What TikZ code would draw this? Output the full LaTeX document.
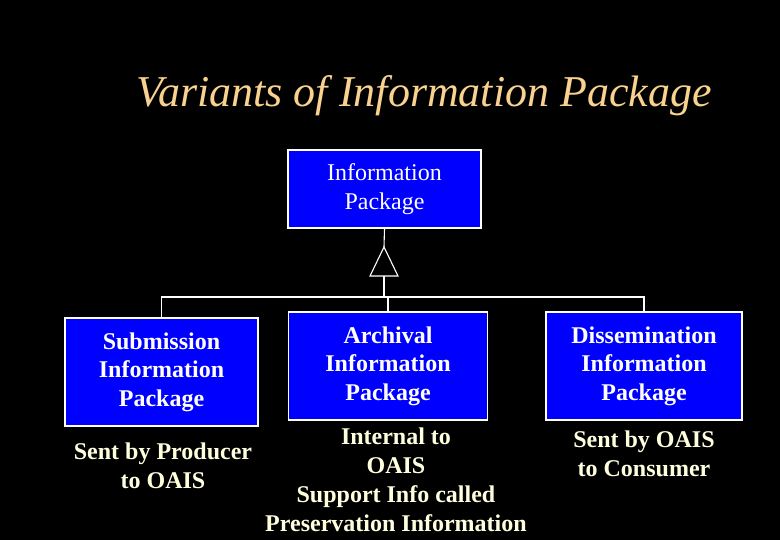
\documentclass[tikz,border=0pt]{standalone}
\usepackage{fontspec}
\setmainfont{Liberation Serif}
\usepackage{tikz}
\definecolor{titlecol}{RGB}{248,210,142}
\definecolor{notecol}{RGB}{255,255,222}
\definecolor{pkgblue}{RGB}{0,0,255}

\begin{document}
\begin{tikzpicture}[x=1pt,y=-1pt,
    pkg/.style={draw=white,line width=1.1pt,fill=pkgblue,text=white,align=center,
                font=\fontsize{24}{28.5}\selectfont\bfseries,minimum height=108pt},
    note/.style={text=notecol,align=center,font=\fontsize{24}{29}\selectfont\bfseries},
    link/.style={draw=white,line width=1.1pt}]
        \fill[black] (0,0) rectangle (780,540);
        \useasboundingbox (0,0) rectangle (780,540);
        \node[text=titlecol,font=\fontsize{44}{50}\selectfont\itshape] (title) at (424,96) {Variants of Information Package};
        % parent and the three variants
        \node[pkg,font=\fontsize{24}{29}\selectfont,minimum width=193pt,minimum height=78pt] (ip) at (384.5,189) {Information\\Package};
        \node[pkg,minimum width=193pt] (sip) at (161.5,372) {Submission\\Information\\Package};
        \node[pkg,minimum width=199pt] (aip) at (388,366) {Archival\\Information\\Package};
        \node[pkg,minimum width=196pt] (dip) at (644,366) {Dissemination\\Information\\Package};
        % generalisation
        \coordinate (apex) at (384,247);
        \coordinate (base) at (384,276);
        \coordinate (bus) at (384,297);
        \draw[link] (ip.south) -- (apex);
        \draw[link] (apex) -- (370,276) -- (398,276) -- cycle;
        \draw[link] (base) -- (bus);
        \draw[link] (sip.north) -- (sip.north |- bus) -- (dip.north |- bus) -- (dip.north);
        \draw[link] (aip.north) -- (aip.north |- bus);
        % notes
        \node[note] (sipnote) at (163,466) {Sent by Producer\\to OAIS};
        \node[note] (aipnote) at (396,480) {Internal to\\OAIS\\Support Info called\\Preservation Information};
        \node[note] (dipnote) at (644,454) {Sent by OAIS\\to Consumer};
    \end{tikzpicture}
\end{document}
